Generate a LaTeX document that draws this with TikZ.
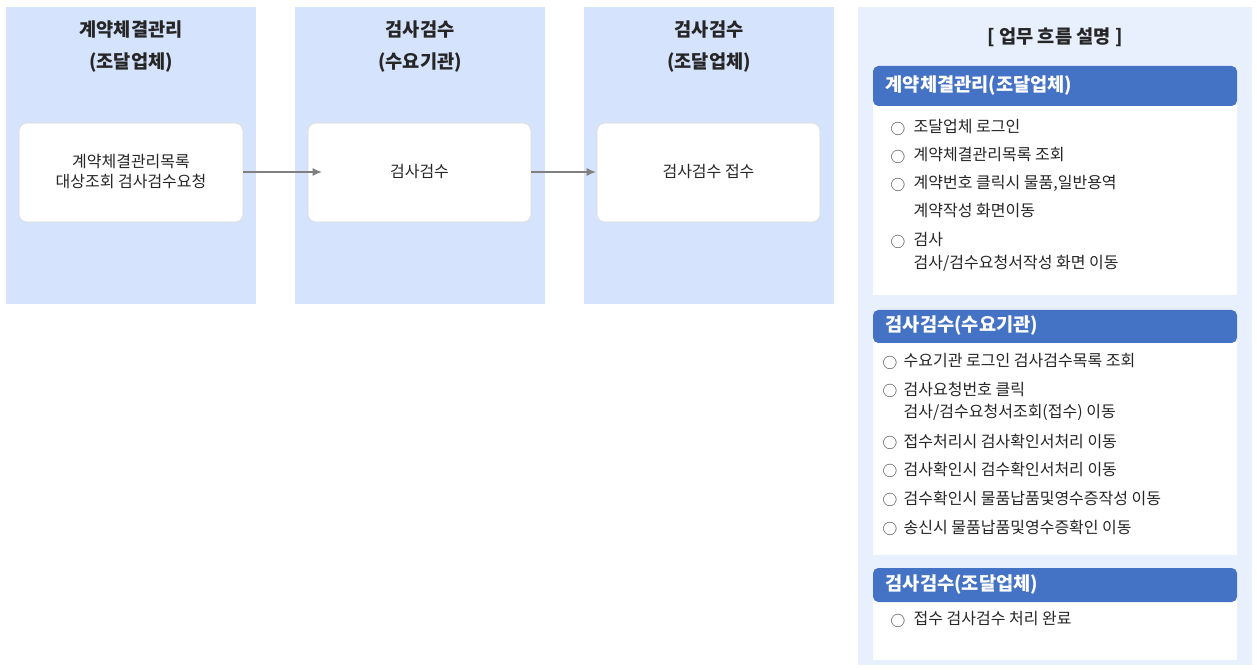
\documentclass[tikz,border=0pt]{standalone}
\usepackage{fontspec}
\setmainfont{Noto Sans CJK KR}
\begin{document}
\begin{tikzpicture}[x=0.75pt,y=-0.75pt,
 col/.style={fill=colbg,draw=none},
 inner/.style={fill=white,draw=black!15,rounded corners=6pt,align=center,font=\fontsize{12}{15}\selectfont,text=black!85},
 ttl/.style={font=\bfseries\fontsize{14}{17}\selectfont,text=black!85,align=center},
 arr/.style={draw=black!50,line width=1pt,-{Latex[length=7pt,width=6pt]}},
 hdr/.style={fill=hdrblue,rounded corners=4pt,draw=none},
 htxt/.style={anchor=west,text=white,font=\bfseries\fontsize{14}{17}\selectfont},
 item/.style={anchor=west,font=\fontsize{12}{15}\selectfont,text=black!85},
 circ/.style={anchor=center,font=\fontsize{11}{13}\selectfont,text=black!75}]
\definecolor{colbg}{HTML}{D5E3FC}
\definecolor{panelbg}{HTML}{E8F0FD}
\definecolor{hdrblue}{HTML}{4472C4}
\usetikzlibrary{arrows.meta}
\useasboundingbox (0,0) rectangle (1257,670);
% columns
\foreach \x/\a/\b [count=\i] in {6/계약체결관리/(조달업체),295/검사검수/(수요기관),584/검사검수/(조달업체)}{
  \fill[colbg] (\x,7) rectangle ++(250,297);
  \node[ttl] at (\x+125,30) {\a};
  \node[ttl] at (\x+125,63) {\b};
}
\draw[inner] (19,123) rectangle (243,222);
\node[inner,draw=none,fill=none] (b1) at (131,172) {계약체결관리목록\\대상조회 검사검수요청};
\draw[inner] (308,123) rectangle (531,222);
\node[inner,draw=none,fill=none] (b2) at (419.5,172) {검사검수};
\draw[inner] (597,123) rectangle (820,222);
\node[inner,draw=none,fill=none] (b3) at (708.5,172) {검사검수 접수};
\coordinate (a1s) at (243,172); \coordinate (a1e) at (322,172);
\coordinate (a2s) at (531,172); \coordinate (a2e) at (596,172);
\draw[arr] (a1s) -- (a1e);
\draw[arr] (a2s) -- (a2e);
% panel
\fill[panelbg] (858,7) rectangle (1252,665);
\node[font=\bfseries\fontsize{14}{17}\selectfont,text=black!85] (pt) at (1055,37) {[ 업무 흐름 설명 ]};
% section 1
\fill[white] (873,100) rectangle (1237,295);
\fill[hdr] (873,66) rectangle (1237,106);
\node[htxt] (h1) at (881,86) {계약체결관리(조달업체)};
\foreach \y/\t in {127/조달업체 로그인,155/계약체결관리목록 조회,183/계약번호 클릭시 물품{,}일반용역,240/검사/검수요청서작성 버튼 클릭시}{
  \node[circ] at (898,\y+2) {○}; \node[item] at (909,\y) {\t};}
\node[item] at (909,211) {계약작성 화면이동};
\node[item] at (909,263) {검사/검수요청서작성 화면 이동};
% section 2
\fill[white] (873,338) rectangle (1237,555);
\fill[hdr] (873,310) rectangle (1237,343);
\node[htxt] (h2) at (881,326) {검사검수(수요기관)};
\foreach \y/\t in {361/수요기관 로그인 검사검수목록 조회,389/검사요청번호 클릭,441/접수처리시 검사확인서처리 이동,469/검사확인시 검수확인서처리 이동,498/검수확인시 물품납품및영수증작성 이동,527/송신시 물품납품및영수증확인 이동}{
  \node[circ] at (890,\y+2) {○}; \node[item] at (899,\y) {\t};}
\node[item] at (899,412) {검사/검수요청서조회(접수) 이동};
% section 3
\fill[white] (873,597) rectangle (1237,660);
\fill[hdr] (873,568) rectangle (1237,602);
\node[htxt] (h3) at (881,585) {검사검수(조달업체)};
\node[circ] at (898,621) {○}; \node[item] at (909,619) {접수 검사검수 처리 완료};
\end{tikzpicture}
\end{document}
